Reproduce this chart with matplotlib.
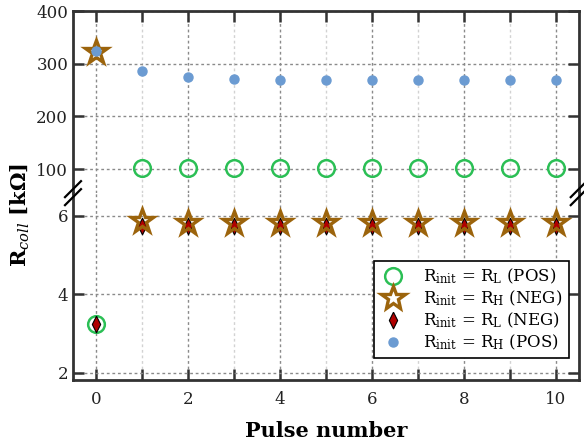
import numpy as np
import matplotlib
matplotlib.use("Agg")
import matplotlib.pyplot as plt
from matplotlib.lines import Line2D
from matplotlib.markers import MarkerStyle
from matplotlib.ticker import MultipleLocator

plt.rcParams['font.family'] = ['DejaVu Serif']
plt.rcParams['mathtext.fontset'] = 'dejavuserif'

# --- data ---
pulses = np.arange(0, 11)
rl_pos = [3.25, 103, 103, 103, 103, 103, 103, 103, 103, 103, 103]
rh_neg = [323, 5.86, 5.82, 5.82, 5.82, 5.82, 5.82, 5.82, 5.82, 5.82, 5.82]
rl_neg = [3.25, 5.74, 5.74, 5.74, 5.74, 5.74, 5.74, 5.74, 5.74, 5.74, 5.74]
rh_pos = [323.5, 285.5, 274.7, 271.5, 270, 269, 269, 268.5, 268.5, 268.5, 268.5]

labels = [r'R$_{\mathrm{init}}$ = R$_{\mathrm{L}}$ (POS)',
          r'R$_{\mathrm{init}}$ = R$_{\mathrm{H}}$ (NEG)',
          r'R$_{\mathrm{init}}$ = R$_{\mathrm{L}}$ (NEG)',
          r'R$_{\mathrm{init}}$ = R$_{\mathrm{H}}$ (POS)']

green = '#2bbf55'
brown = '#9c640c'
red = '#b00000'
blue = '#6b9bd2'
spine_c = '#333333'
diamond = MarkerStyle([(0, 1), (0.5, 0), (0, -1), (-0.5, 0), (0, 1)], joinstyle='miter')
star = MarkerStyle('*', joinstyle='miter')

fig = plt.figure(figsize=(5.84, 4.44), dpi=100)
L, R, B, T, MID = 0.125, 0.991, 0.144, 0.975, 0.565
ax_top = fig.add_axes([L, MID, R - L, T - MID])
ax_bot = fig.add_axes([L, B, R - L, MID - B])

for ax in (ax_top, ax_bot):
    ax.plot(pulses, rl_pos, 'o', ms=12, mfc='none', mec=green, mew=1.8, zorder=3)
    ax.plot(pulses, rl_neg, marker=diamond, ls='none', ms=12, mfc=red, mec='black',
            mew=0.8, zorder=4)
    ax.plot(pulses, rh_neg, marker=star, ls='none', ms=17, mfc='none', mec=brown,
            mew=2.4, zorder=5)
    ax.plot(pulses, rh_pos, 'o', ms=6.5, mfc=blue, mec=blue, zorder=6)
    ax.set_xlim(-0.5, 10.5)
    ax.xaxis.set_major_locator(MultipleLocator(2))
    ax.xaxis.set_minor_locator(MultipleLocator(1))
    ax.grid(which='major', color='#8a8a8a', linestyle=(0, (2, 2)), linewidth=1.0)
    ax.grid(which='minor', axis='x', color='#d2d2d2', linestyle=(0, (2, 2)), linewidth=1.0)
    ax.set_axisbelow(True)
    ax.tick_params(which='both', direction='in', length=8, width=1.8,
                   color=spine_c, labelsize=12, labelcolor='#222222',
                   left=True, right=True, top=True, bottom=True)
    for s in ax.spines.values():
        s.set_linewidth(2.0)
        s.set_color(spine_c)

ax_top.set_ylim(54.4, 400)
ax_top.set_yticks([100, 200, 300, 400])
ax_top.spines['bottom'].set_visible(False)
ax_top.tick_params(which='both', bottom=False, labelbottom=False)

ax_bot.set_ylim(1.82, 6.58)
ax_bot.set_yticks([2, 4, 6])
ax_bot.spines['top'].set_visible(False)
ax_bot.tick_params(which='both', top=False)
ax_bot.tick_params(axis='x', pad=8)

# break marks across the spines
W, H = fig.get_size_inches() * fig.dpi
for xc in (L, R):
    for off in (-4, 4):
        x0 = xc - 8 / W
        x1 = xc + 8 / W
        y0 = MID + (off - 8) / H
        y1 = MID + (off + 8) / H
        fig.add_artist(Line2D([x0, x1], [y0, y1], color='black', lw=1.6,
                              transform=fig.transFigure, zorder=10))

handles = [
    Line2D([], [], ls='none', marker='o', ms=12, mfc='none', mec=green, mew=1.8),
    Line2D([], [], ls='none', marker=star, ms=18, mfc='white', mec=brown, mew=2.4),
    Line2D([], [], ls='none', marker=diamond, ms=12, mfc=red, mec='black', mew=0.8),
    Line2D([], [], ls='none', marker='o', ms=6.5, mfc=blue, mec=blue),
]
leg = ax_bot.legend(handles, labels, loc='lower right', bbox_to_anchor=(0.98, 0.118),
                    borderaxespad=0, fontsize=12, frameon=True, fancybox=False,
                    framealpha=1, edgecolor='black', handlelength=1.6,
                    handletextpad=1.0, labelspacing=0.15, borderpad=0.35)
leg.get_frame().set_linewidth(1.2)

fig.text(0.035, 0.516, r'R$_{\mathbf{\mathit{coll}}}$ [k$\mathbf{\Omega}$]', rotation=90,
         ha='center', va='center', fontsize=15, fontweight='bold')
fig.text((L + R) / 2, 0.03, 'Pulse number', ha='center', va='center',
         fontsize=15, fontweight='bold')

fig.savefig('out.png', dpi=100)
